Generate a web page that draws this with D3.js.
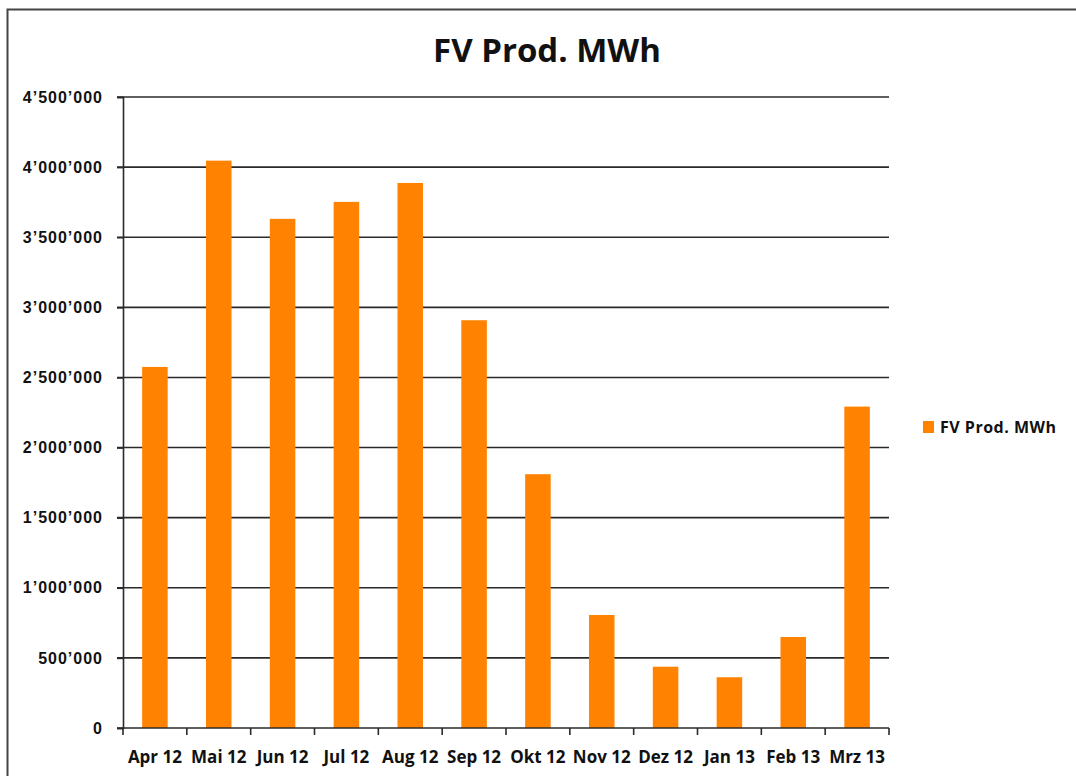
<!DOCTYPE html>
<html>
<head>
<meta charset="utf-8">
<script src="https://cdn.jsdelivr.net/npm/d3@7"></script>
<style>
  body { margin: 0; background: #fff; }
  svg { display: block; font-family: "Open Sans", "Noto Sans", sans-serif; }
</style>
</head>
<body>
<div class="vis-bars"></div>
<script>
const months = ['Apr 12', 'Mai 12', 'Jun 12', 'Jul 12', 'Aug 12', 'Sep 12',
    'Okt 12', 'Nov 12', 'Dez 12', 'Jan 13', 'Feb 13', 'Mrz 13'];
const production = [2575000, 4046000, 3631000, 3752000, 3887000, 2908000,
    1810000, 806000, 437000, 362000, 649000, 2292000];
const yTicks = [0, 500000, 1000000, 1500000, 2000000, 2500000, 3000000, 3500000, 4000000, 4500000];
const seriesName = 'FV Prod. MWh';

const width = 1076;
const height = 776;
const margin = { top: 97, right: 187, bottom: 48, left: 123 };
const innerW = width - margin.left - margin.right;
const innerH = height - margin.top - margin.bottom;

// Swiss style thousands separator: 4'500'000
const fmt = (v) => d3.format(',')(v).replace(/,/g, '\u2019');

const svg = d3.select('.vis-bars')
    .append('svg')
    .attr('width', width)
    .attr('height', height);

// outer chart frame
svg.append('rect')
    .attr('x', 7.5)
    .attr('y', 9.5)
    .attr('width', width + 20)
    .attr('height', height + 20)
    .attr('fill', 'none')
    .attr('stroke', '#444')
    .attr('stroke-width', 2);

svg.append('text')
    .attr('x', 547)
    .attr('y', 62)
    .attr('text-anchor', 'middle')
    .attr('font-size', 33)
    .attr('font-weight', 'bold')
    .attr('fill', '#111')
    .text(seriesName);

const g = svg.append('g')
    .attr('transform', 'translate(' + margin.left + ',' + margin.top + ')');

const x = d3.scaleBand().domain(months).range([0, innerW]);
const y = d3.scaleLinear().domain([0, 4500000]).range([innerH, 0]);

// horizontal gridlines
g.append('g')
    .selectAll('line')
    .data(yTicks.slice(1))
    .enter()
    .append('line')
    .attr('x1', -6)
    .attr('x2', innerW)
    .attr('y1', (d) => y(d))
    .attr('y2', (d) => y(d))
    .attr('stroke', '#2a2a2a')
    .attr('stroke-width', 1.6);

// bars: gap width 150% like the original
const barW = x.bandwidth() * 0.4;
g.append('g')
    .selectAll('rect')
    .data(production)
    .enter()
    .append('rect')
    .attr('x', (d, i) => x(months[i]) + (x.bandwidth() - barW) / 2)
    .attr('y', (d) => y(d))
    .attr('width', barW)
    .attr('height', (d) => innerH - y(d))
    .attr('fill', '#ff8300');

// y axis
const yAxis = g.append('g')
    .call(d3.axisLeft(y).tickValues(yTicks).tickFormat(fmt).tickSize(6).tickPadding(14));
yAxis.select('.domain').attr('stroke', '#2a2a2a').attr('stroke-width', 1.6);
yAxis.selectAll('.tick line').attr('stroke', '#2a2a2a').attr('stroke-width', 1.6);
yAxis.selectAll('text')
    .attr('font-size', 16)
    .attr('font-weight', 'bold')
    .attr('letter-spacing', 1)
    .attr('fill', '#111');

// x axis with ticks between categories
const xAxisG = g.append('g').attr('transform', 'translate(0,' + innerH + ')');
xAxisG.append('line')
    .attr('x1', -6)
    .attr('x2', innerW)
    .attr('stroke', '#2a2a2a')
    .attr('stroke-width', 1.6);
xAxisG.selectAll('.sep')
    .data(months.concat(['end']))
    .enter()
    .append('line')
    .attr('class', 'sep')
    .attr('x1', (d, i) => i * x.step())
    .attr('x2', (d, i) => i * x.step())
    .attr('y1', 0)
    .attr('y2', 7)
    .attr('stroke', '#2a2a2a')
    .attr('stroke-width', 1.6);
xAxisG.selectAll('.lbl')
    .data(months)
    .enter()
    .append('text')
    .attr('class', 'lbl')
    .attr('x', (d) => x(d) + x.bandwidth() / 2)
    .attr('y', 35)
    .attr('text-anchor', 'middle')
    .attr('font-size', 17)
    .attr('font-weight', 'bold')
    .attr('fill', '#111')
    .text((d) => d);

// legend
const legend = svg.append('g').attr('transform', 'translate(923,421)');
legend.append('rect')
    .attr('width', 11)
    .attr('height', 12)
    .attr('fill', '#ff8300');
legend.append('text')
    .attr('x', 17)
    .attr('y', 12)
    .attr('font-size', 16)
    .attr('font-weight', 'bold')
    .attr('letter-spacing', 0.5)
    .attr('fill', '#111')
    .text(seriesName);
</script>
</body>
</html>
